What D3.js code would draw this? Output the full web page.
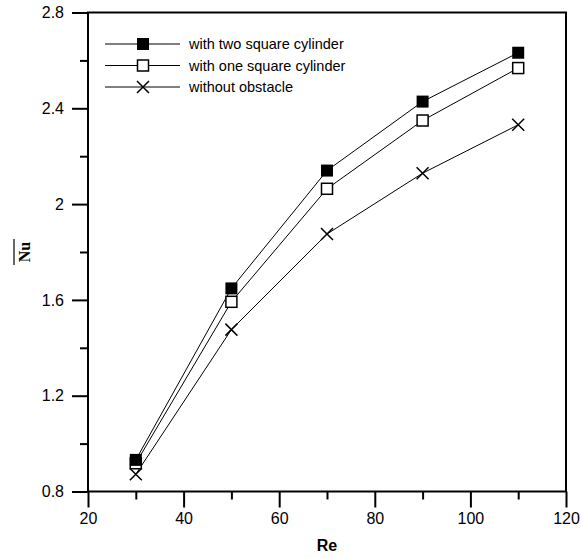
<!DOCTYPE html>
<html>
<head>
<meta charset="utf-8">
<script src="https://cdn.jsdelivr.net/npm/d3@7"></script>
<style>
  body { margin: 0; background: #fff; }
  text { font-family: Arial, "Liberation Sans", sans-serif; }
</style>
</head>
<body>
<div id="chart-area"></div>
<script>
// data
const reValues = [30, 50, 70, 90, 110];
const twoCylinders = [0.932, 1.648, 2.14, 2.428, 2.632];
const oneCylinder = [0.918, 1.592, 2.064, 2.349, 2.568];
const noObstacle = [0.872, 1.476, 1.875, 2.129, 2.331];
const seriesNames = ['with two square cylinder', 'with one square cylinder', 'without obstacle'];
const xTicks = [20, 40, 60, 80, 100, 120];
const yTicks = [0.8, 1.2, 1.6, 2.0, 2.4, 2.8];

const margin = { top: 12.5, right: 15, bottom: 66.5, left: 88 };
const width = 581, height = 558;
const vizWidth = width - margin.left - margin.right;
const vizHeight = height - margin.top - margin.bottom;

const svg = d3.select('#chart-area')
  .append('svg')
    .attr('width', width)
    .attr('height', height);

const g = svg.append('g')
  .attr('transform', `translate(${margin.left},${margin.top})`);

const xScale = d3.scaleLinear().domain([20, 120]).range([0, vizWidth]);
const yScale = d3.scaleLinear().domain([0.8, 2.8]).range([vizHeight, 0]);

// minor ticks (halfway between majors)
const xMinor = d3.range(30, 120, 20);
const yMinor = d3.range(1.0, 2.8, 0.4);

const xAxisCall = d3.axisBottom(xScale).tickValues(xTicks).tickSize(16).tickPadding(5).tickFormat(d3.format('d'));
const yAxisCall = d3.axisLeft(yScale).tickValues(yTicks).tickSize(16).tickPadding(8).tickFormat(d => d === 2 ? '2' : d3.format('.1f')(d));

const xAxisGroup = g.append('g')
  .attr('transform', `translate(0,${vizHeight})`)
  .call(xAxisCall);
const yAxisGroup = g.append('g').call(yAxisCall);

[xAxisGroup, yAxisGroup].forEach(ax => {
  ax.select('.domain').remove();
  ax.selectAll('line').attr('stroke', '#000').attr('stroke-width', 2);
  ax.selectAll('text').attr('font-size', 16).attr('fill', '#000');
});

g.append('g')
  .attr('transform', `translate(0,${vizHeight})`)
  .call(d3.axisBottom(xScale).tickValues(xMinor).tickSize(8).tickFormat(''))
  .call(a => a.select('.domain').remove())
  .selectAll('line').attr('stroke', '#000').attr('stroke-width', 2);

g.append('g')
  .call(d3.axisLeft(yScale).tickValues(yMinor).tickSize(8).tickFormat(''))
  .call(a => a.select('.domain').remove())
  .selectAll('line').attr('stroke', '#000').attr('stroke-width', 2);

// frame
g.append('rect')
  .attr('width', vizWidth)
  .attr('height', vizHeight)
  .attr('fill', 'none')
  .attr('stroke', '#000')
  .attr('stroke-width', 2);

// axis labels
g.append('text')
  .attr('x', vizWidth / 2)
  .attr('y', vizHeight + 59)
  .attr('text-anchor', 'middle')
  .attr('font-size', 16)
  .attr('font-weight', 'bold')
  .text('Re');

const yLab = g.append('g')
  .attr('transform', `translate(${-58},${yScale(1.8)}) rotate(-90)`);
yLab.append('text')
  .attr('x', 0)
  .attr('y', 0)
  .attr('text-anchor', 'middle')
  .attr('font-size', 16)
  .attr('font-weight', 'bold')
  .style('font-family', '"Liberation Serif", "Times New Roman", serif')
  .text('Nu');
yLab.append('line')
  .attr('x1', -13).attr('x2', 13)
  .attr('y1', -16).attr('y2', -16)
  .attr('stroke', '#000')
  .attr('stroke-width', 1.2);

// series
const series = [
  { name: seriesNames[0], values: twoCylinders, marker: 'filled' },
  { name: seriesNames[1], values: oneCylinder, marker: 'open' },
  { name: seriesNames[2], values: noObstacle, marker: 'cross' }
];

const line = d3.line()
  .x((d, i) => xScale(reValues[i]))
  .y(d => yScale(d));

function drawMarker(sel, type, x, y) {
  if (type === 'filled') {
    sel.append('rect')
      .attr('x', x - 6).attr('y', y - 6)
      .attr('width', 12).attr('height', 12)
      .attr('fill', '#000');
  } else if (type === 'open') {
    sel.append('rect')
      .attr('x', x - 5.5).attr('y', y - 5.5)
      .attr('width', 11).attr('height', 11)
      .attr('fill', '#fff')
      .attr('stroke', '#000')
      .attr('stroke-width', 1.5);
  } else {
    sel.append('path')
      .attr('d', `M${x - 6},${y - 6}L${x + 6},${y + 6}M${x - 6},${y + 6}L${x + 6},${y - 6}`)
      .attr('stroke', '#000')
      .attr('stroke-width', 1.5)
      .attr('fill', 'none');
  }
}

series.slice().reverse().forEach(s => {
  g.append('path')
    .datum(s.values)
    .attr('d', line)
    .attr('fill', 'none')
    .attr('stroke', '#000')
    .attr('stroke-width', 1);
});
series.slice().reverse().forEach(s => {
  const mg = g.append('g');
  s.values.forEach((v, i) => drawMarker(mg, s.marker, xScale(reValues[i]), yScale(v)));
});

// legend
const legend = g.append('g')
  .attr('transform', 'translate(17,31.5)');
series.forEach((s, i) => {
  const row = legend.append('g')
    .attr('transform', `translate(0,${i * 21.5})`);
  row.append('line')
    .attr('x1', 0).attr('x2', 75)
    .attr('y1', 0).attr('y2', 0)
    .attr('stroke', '#000')
    .attr('stroke-width', 1);
  drawMarker(row, s.marker, 38, 0);
  row.append('text')
    .attr('x', 84)
    .attr('y', 5)
    .attr('font-size', 14.5)
    .attr('fill', '#000')
    .text(s.name);
});
</script>
</body>
</html>
